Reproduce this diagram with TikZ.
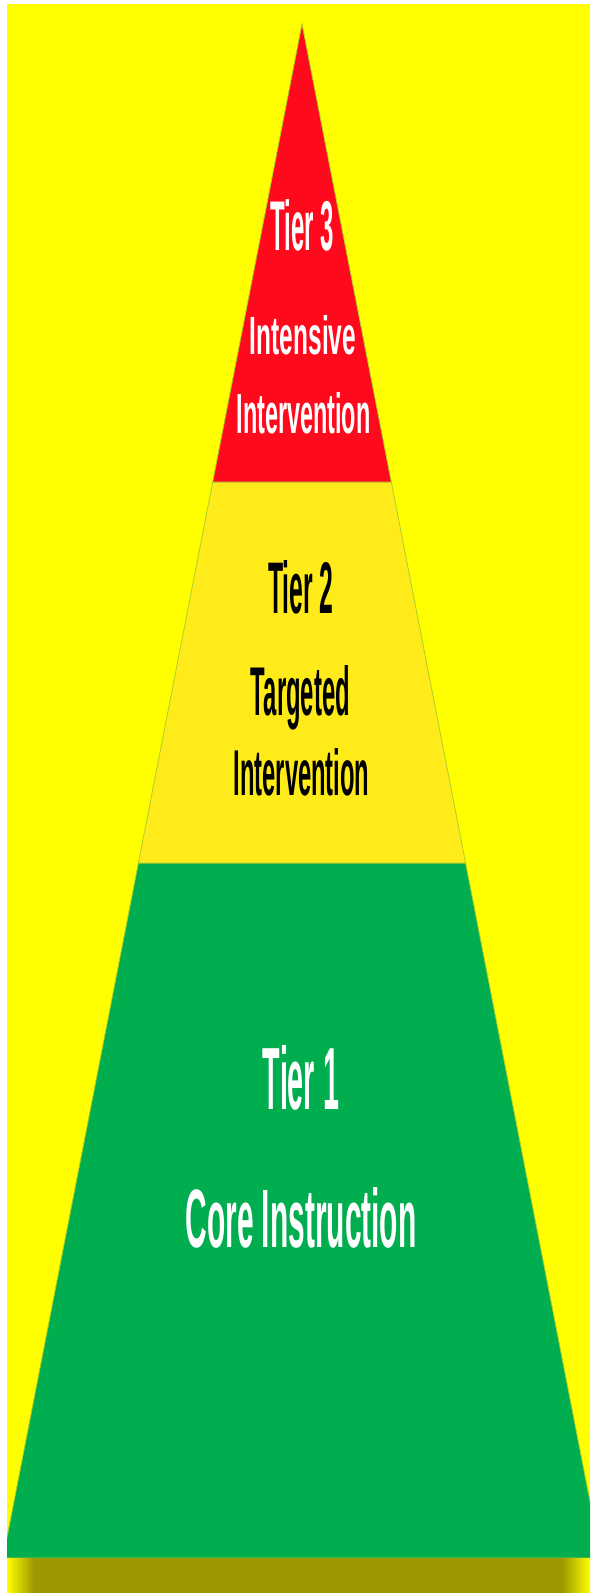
\documentclass[tikz,border=0pt]{standalone}
\usepackage{fontspec}
\setmainfont{Liberation Sans}
\usepackage{graphicx}
\usepackage{xcolor}

\definecolor{bgyellow}{RGB}{255,255,0}
\definecolor{tierred}{RGB}{255,10,28}
\definecolor{tieryellow}{RGB}{255,235,26}
\definecolor{tiergreen}{RGB}{0,173,79}
\definecolor{bandolive}{RGB}{156,152,0}
\definecolor{edgegreen}{RGB}{175,205,40}

\begin{document}
\begin{tikzpicture}[x=1pt,y=-1pt,
  edge/.style={draw=edgegreen, line width=0.8pt},
  tiertext/.style={anchor=base, inner sep=0pt, font=\bfseries}]
\useasboundingbox (0,0) rectangle (590,1593);
\fill[white] (0,0) rectangle (590,1593);

% Draw the yellow background
\fill[bgyellow] (7,4) rectangle (590,1593);

\begin{scope}
\clip (7,4) rectangle (590,1593);
% Draw the bottom tier (green)
\draw[edge, fill=tiergreen]
    (138.4,863) -- (465.6,863) -- (601,1558) -- (3,1558) -- cycle;

% Draw the middle tier (yellow)
\draw[edge, fill=tieryellow]
    (212.7,482) -- (391.3,482) -- (465.6,863) -- (138.4,863) -- cycle;

% Draw the top tier (red)
\draw[edge, fill=tierred]
    (302,24) -- (391.3,482) -- (212.7,482) -- cycle;

% Draw the olive band at the bottom
\fill[bandolive] (7,1558) rectangle (590,1593);
\shade[left color=bgyellow, right color=bandolive] (7,1558) rectangle (34,1593);
\shade[left color=bandolive, right color=bgyellow] (562,1558) rectangle (590,1593);
\end{scope}

\node[tiertext, white] (tierthree) at (302.5,250) {\resizebox{63.5pt}{51pt}{Tier 3}};
\node[tiertext, white] (intensive) at (303,354) {\resizebox{106pt}{39pt}{Intensive}};
\node[tiertext, white] (intervthree) at (303.5,433) {\resizebox{134pt}{41pt}{Intervention}};

\node[tiertext, black] (tiertwo) at (301,613) {\resizebox{65.5pt}{53pt}{Tier 2}};
\node[tiertext, black] (targeted) at (300.5,715) {\resizebox{99pt}{50pt}{Targeted}};
\node[tiertext, black] (intervtwo) at (301.5,795) {\resizebox{136pt}{47pt}{Intervention}};

\node[tiertext, white] (tierone) at (301,1109) {\resizebox{76pt}{64pt}{Tier 1}};
\node[tiertext, white] (core) at (301,1247) {\resizebox{231pt}{60pt}{Core Instruction}};
\end{tikzpicture}
\end{document}
